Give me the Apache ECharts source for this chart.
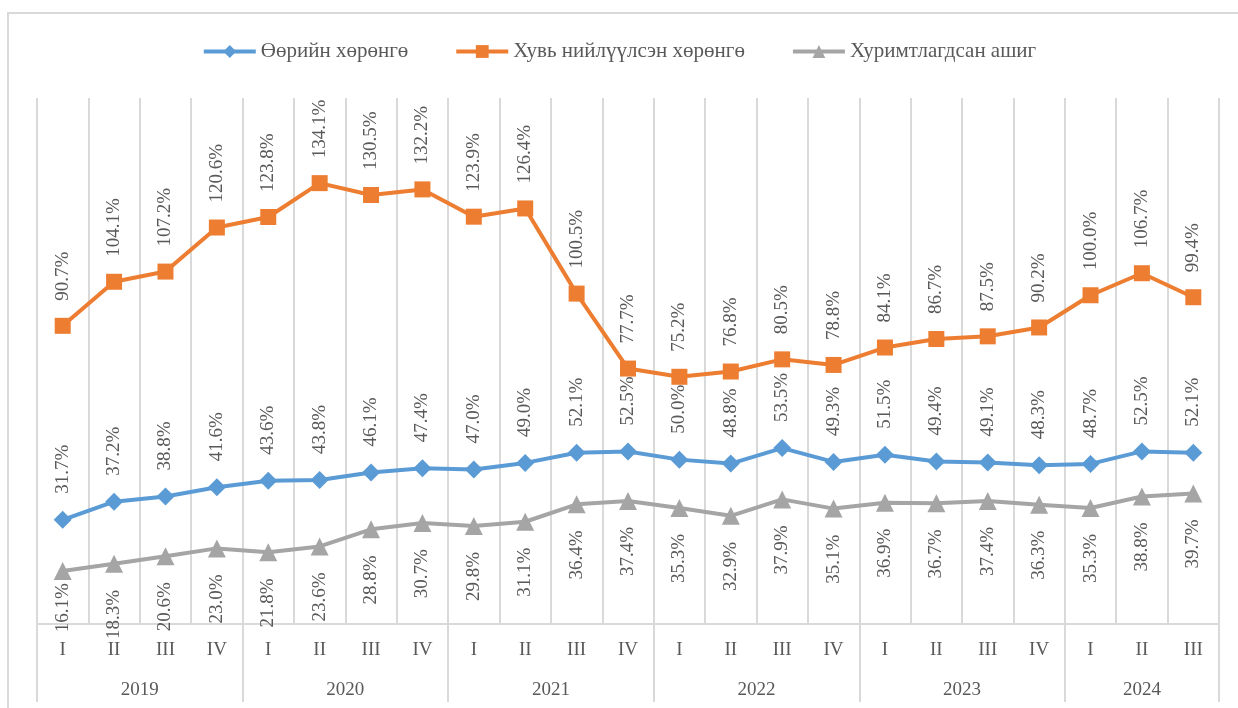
<!DOCTYPE html>
<html>
<head>
<meta charset="utf-8">
<script src="https://cdn.jsdelivr.net/npm/echarts@6/dist/echarts.min.js"></script>
<style>
html,body{margin:0;padding:0;background:#fff;}
#chart{width:1238px;height:708px;position:relative;}
#frame{position:absolute;left:7px;top:12px;width:1300px;height:800px;border-top:2px solid #d9d9d9;border-left:2px solid #d9d9d9;pointer-events:none;}
</style>
</head>
<body>
<div id="chart"></div>
<div id="frame"></div>
<script>
// ---- data ----
var years = ['2019', '2020', '2021', '2022', '2023', '2024'];
var quartersPerYear = [4, 4, 4, 4, 4, 3];
var quarterNames = ['I', 'II', 'III', 'IV'];
var seriesNames = ['Өөрийн хөрөнгө', 'Хувь нийлүүлсэн хөрөнгө', 'Хуримтлагдсан ашиг'];
var ownEquity = [31.7, 37.2, 38.8, 41.6, 43.6, 43.8, 46.1, 47.4, 47.0, 49.0, 52.1, 52.5, 50.0, 48.8, 53.5, 49.3, 51.5, 49.4, 49.1, 48.3, 48.7, 52.5, 52.1];
var paidInCapital = [90.7, 104.1, 107.2, 120.6, 123.8, 134.1, 130.5, 132.2, 123.9, 126.4, 100.5, 77.7, 75.2, 76.8, 80.5, 78.8, 84.1, 86.7, 87.5, 90.2, 100.0, 106.7, 99.4];
var retainedEarnings = [16.1, 18.3, 20.6, 23.0, 21.8, 23.6, 28.8, 30.7, 29.8, 31.1, 36.4, 37.4, 35.3, 32.9, 37.9, 35.1, 36.9, 36.7, 37.4, 36.3, 35.3, 38.8, 39.7];

// ---- build axis categories ----
var quarterCats = [];
var yearSlots = [];      // half-quarter boundary positions (boundaryGap false)
var yearLabelIdx = {};
var yearTickIdx = {0: true};
var pos = 0;
quartersPerYear.forEach(function (n, i) {
  for (var q = 0; q < n; q++) quarterCats.push(quarterNames[q]);
  yearLabelIdx[pos + n] = years[i];   // centre of group in half-quarter units
  pos += 2 * n;
  yearTickIdx[pos] = true;
});
for (var k = 0; k <= pos; k++) yearSlots.push(yearLabelIdx[k] || '');

var FONT = 'Liberation Serif';
var TXT = '#595959';
var GRID = '#d9d9d9';

function lbl(position, align) {
  return {
    show: true, position: position, distance: 17, rotate: 90,
    align: align, verticalAlign: 'middle',
    fontFamily: FONT, fontSize: 19, color: TXT,
    formatter: function (p) { return p.value.toFixed(1) + '%'; }
  };
}

// first retained-earnings label is pulled up so it stays clear of the axis labels (as in the source)
var retainedData = retainedEarnings.map(function (v, i) {
  return i === 0 ? {value: v, label: {distance: 3}} : v;
});

var chart = echarts.init(document.getElementById('chart'), null, {renderer: 'canvas'});
chart.setOption({
  animation: false,
  backgroundColor: '#fff',
  legend: {
    top: 36, left: 'center',
    itemWidth: 52, itemHeight: 16, itemGap: 46,
    lineStyle: {width: 4},
    textStyle: {fontFamily: FONT, fontSize: 21, color: TXT},
    data: seriesNames
  },
  grid: {left: 37, right: 19, top: 98, bottom: 84, containLabel: false, outerBoundsMode: 'none'},
  xAxis: [
    {
      type: 'category', position: 'bottom', data: quarterCats, boundaryGap: true,
      axisLine: {show: true, lineStyle: {color: GRID, width: 2}},
      axisTick: {show: false},
      splitLine: {show: true, lineStyle: {color: GRID, width: 2}},
      axisLabel: {interval: 0, margin: 17, fontFamily: FONT, fontSize: 19, color: TXT}
    },
    {
      type: 'category', position: 'bottom', data: yearSlots, boundaryGap: false,
      axisLine: {show: false},
      axisTick: {show: true, length: 78, interval: function (i) { return !!yearTickIdx[i]; }, lineStyle: {color: GRID, width: 2}},
      splitLine: {show: false},
      axisLabel: {interval: function (i, v) { return v !== ''; }, margin: 57, fontFamily: FONT, fontSize: 19, color: TXT}
    }
  ],
  yAxis: {type: 'value', min: 0, max: 160, show: false, splitLine: {show: false}},
  series: [
    {
      name: seriesNames[0], type: 'line', data: ownEquity, xAxisIndex: 0,
      symbol: 'diamond', symbolSize: 18, color: '#5B9BD5',
      lineStyle: {width: 4, color: '#5B9BD5'}, itemStyle: {color: '#5B9BD5'},
      label: lbl('top', 'left'), z: 3
    },
    {
      name: seriesNames[1], type: 'line', data: paidInCapital, xAxisIndex: 0,
      symbol: 'rect', symbolSize: 16, color: '#ED7D31',
      lineStyle: {width: 4, color: '#ED7D31'}, itemStyle: {color: '#ED7D31'},
      label: lbl('top', 'left'), z: 3
    },
    {
      name: seriesNames[2], type: 'line', data: retainedData, xAxisIndex: 0,
      symbol: 'triangle', symbolSize: 18, color: '#A5A5A5',
      lineStyle: {width: 4, color: '#A5A5A5'}, itemStyle: {color: '#A5A5A5'},
      label: lbl('bottom', 'right'), z: 3
    }
  ]
});
</script>
</body>
</html>
